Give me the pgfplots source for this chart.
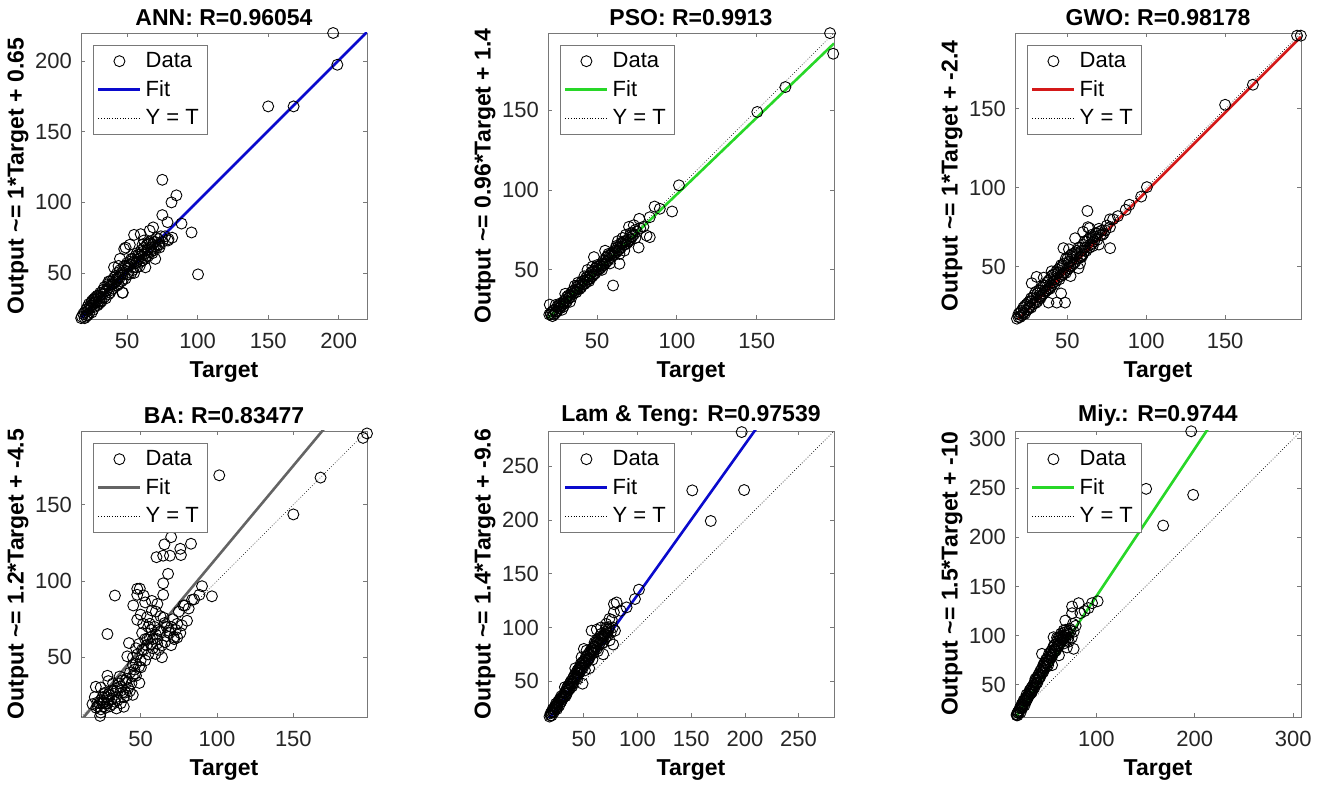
\documentclass[border=0pt]{standalone}
\usepackage{fontspec}
\setmainfont{Liberation Sans}
\usepackage{pgfplots}
\pgfplotsset{compat=1.18}

\definecolor{fitblue}{RGB}{10,10,205}
\definecolor{fitgreen}{RGB}{40,215,40}
\definecolor{fitred}{RGB}{212,25,25}
\definecolor{fitgray}{RGB}{100,100,100}
\definecolor{framegray}{RGB}{120,120,120}

\pgfplotsset{
  datast/.style={only marks, mark=o, mark size=2.75pt, black, mark options={line width=0.45pt}},
  ytst/.style={black, line width=0.35pt, densely dotted},
  datleg/.style={datast, legend image code/.code={\draw[mark repeat=2,mark phase=2,##1] plot coordinates {(0pt,0pt)(10.5pt,0pt)(21pt,0pt)};}},
  linleg/.style={legend image code/.code={\draw[##1] (0pt,0pt) -- (21pt,0pt);}},
  regplot/.style={
    scale only axis, width=143pt, height=143pt, anchor=north west,
    axis line style={framegray, line width=0.4pt},
    tick align=inside, major tick length=2pt,
    tick style={framegray, line width=0.4pt},
    /pgf/number format/assume math mode=true,
    tick label style={font=\fontsize{11}{13}\selectfont, text=black!85},
    xticklabel style={yshift=-3.5pt},
    yticklabel style={xshift=-1pt},
    every axis title/.style={at={(axis description cs:0.5,1.054)}, anchor=center, font=\bfseries\fontsize{11.5}{13}\selectfont},
    every axis x label/.style={at={(axis description cs:0.5,-0.185)}, anchor=center, font=\bfseries\fontsize{11.5}{13}\selectfont},
    every axis y label/.style={at={(axis description cs:-0.22,0.5)}, rotate=90, anchor=center, font=\bfseries\fontsize{11.5}{13}\selectfont},
    xlabel={Target},
    legend cell align=left,
    legend style={at={(0.041,0.959)}, anchor=north west, draw=framegray, line width=0.4pt, fill=white,
      font=\fontsize{11}{13}\selectfont, inner xsep=2pt, inner ysep=1.5pt, row sep=1pt},
  }
}

\begin{document}
\begin{tikzpicture}
\useasboundingbox (0pt,0pt) rectangle (661.5pt,-392.5pt);

% ---------------- ANN ----------------
\begin{axis}[regplot, at={(40.5pt,-16.5pt)},
  xmin=17.4, xmax=220, ymin=17.4, ymax=220,
  xtick={50,100,150,200}, ytick={50,100,150,200},
  title={ANN: R=0.96054}, ylabel={Output \textasciitilde= 1*Target + 0.65}]
\addlegendimage{datleg}\addlegendentry{Data}
\addlegendimage{fitblue, line width=1.3pt, linleg}\addlegendentry{Fit}
\addlegendimage{ytst, linleg}\addlegendentry{Y = T}
\addplot[ytst, forget plot] coordinates {(17.4,17.4) (220,220)};
\addplot[fitblue, line width=1.3pt, forget plot] coordinates {(17.4,18.05) (220,220.65)};
\addplot[datast, forget plot] coordinates {
(18,19)(19,17)(20,22)(21,24)(21,19)(22,26)(23,21)(23,28)(24,25)(25,30)(25,22)(26,29)(27,32)(27,26)(28,31)
(29,27)(29,34)(30,33)(31,29)(31,36)(32,30)(33,38)(34,33)(34,40)(35,37)(36,42)(37,35)(37,41)(38,44)(39,38)
(40,45)(40,39)(41,43)(42,48)(43,41)(43,46)(44,55)(45,47)(46,44)(46,50)(47,36)(48,52)(49,46)(49,55)(50,53)
(51,49)(52,58)(52,56)(53,50)(54,60)(55,54)(56,62)(56,57)(57,64)(58,60)(59,55)(60,66)(60,62)(61,59)(62,68)
(63,64)(64,70)(65,62)(65,67)(66,72)(67,65)(68,70)(69,66)(70,72)(71,68)(72,74)(73,70)(75,72)(77,76)(79,73)
(49,68)(52,70)(55,77)(59.7,77.5)(68.5,82.3)(75,116)(85,105)(81.5,100)(75,91)(78.7,86)(88.6,85)(95.7,78.7)
(100.3,49)(82,75)(79.4,74)(40.8,54)(46.7,36)(150,168)(168,168)(196,220)(199,197.5)(62,73)(63,54)(45,60)
(48,67)(66,80)(70,60)(17.5,18)(22,20)(24,27)(26,24)(28,29)(30,28)(32,35)(35,32)(38,40)(41,47)(44,42)
(47,49)(50,57)(53,56)(55,50)(57,58)(59,63)(61,65)(63,60)(64,66)(67,71)(69,72)(71,75)(73,68)
(19,21)(20,18)(22,23)(23,25)(25,27)(26,31)(27,29)(28,33)(30,30)(31,32)(33,35)(34,37)(36,38)(37,44)(38,36)
(39,42)(40,42)(42,44)(43,50)(44,47)(45,52)(47,45)(48,55)(50,49)(51,55)(53,60)(54,52)(55,58)(57,54)(58,63)
(60,58)(61,70)(62,63)(64,62)(65,71)(67,68)(68,64)(70,69)(72,70)(74,76)};
\end{axis}

% ---------------- PSO ----------------
\begin{axis}[regplot, at={(274pt,-16.5pt)},
  xmin=19.2, xmax=198.5, ymin=19.2, ymax=198.5,
  xtick={50,100,150}, ytick={50,100,150},
  title={PSO: R=0.9913}, ylabel={Output \textasciitilde= 0.96*Target + 1.4}]
\addlegendimage{datleg}\addlegendentry{Data}
\addlegendimage{fitgreen, line width=1.3pt, linleg}\addlegendentry{Fit}
\addlegendimage{ytst, linleg}\addlegendentry{Y = T}
\addplot[ytst, forget plot] coordinates {(19.2,19.2) (198.5,198.5)};
\addplot[fitgreen, line width=1.3pt, forget plot] coordinates {(19.2,19.83) (198.5,191.96)};
\addplot[datast, forget plot] coordinates {
(18,20)(19,21)(20,19)(21,22)(21,23)(22,21)(23,25)(23,22)(24,24)(25,27)(25,24)(26,26)(27,29)(27,27)(28,28)
(29,30)(29,27)(30,31)(31,30)(31,33)(32,32)(33,34)(34,33)(34,36)(35,35)(36,37)(37,36)(37,39)(38,38)(39,40)
(40,39)(40,42)(41,41)(42,43)(43,42)(43,45)(44,44)(45,46)(46,45)(46,48)(47,46)(48,49)(49,48)(49,51)(50,50)
(51,50)(52,53)(52,51)(53,54)(54,53)(55,56)(56,55)(56,58)(57,56)(58,59)(59,58)(60,61)(60,59)(61,62)(62,61)
(63,64)(64,63)(65,66)(65,64)(66,67)(67,66)(68,68)(69,67)(70,70)(71,69)(72,71)(73,72)(75,74)(77,76)(79,77)
(20.3,28.2)(18.9,20.7)(196,198.4)(198,185.5)(168,164.6)(150.4,149)(101.3,103)(97,86.6)(89.3,88.3)(86,89.7)
(83,83)(76.4,82)(83,70.5)(81,71.5)(76,64)(60,40.2)(64,53.8)(48,58)(55,62)(63,68)(70,77)(73,78)(44,50)
(38,42)(30,35)(66,70)(67,62)(24,28)(28,25)(33,30)(36,40)(42,46)(45,43)(50,53)(53,50)(57,60)(62,65)
(64,60)(68,72)(71,73)(74,70)(58,54)(47,52)
(19,19)(20,22)(22,24)(24,23)(26,28)(27,26)(29,29)(30,29)(32,34)(33,33)(35,37)(36,36)(38,40)(39,38)(41,43)
(42,41)(44,46)(45,44)(47,49)(48,47)(50,52)(51,52)(53,52)(54,56)(55,54)(57,59)(59,60)(61,60)(62,64)(63,62)
(65,67)(67,68)(68,66)(70,68)(72,73)(74,75)};
\end{axis}

% ---------------- GWO ----------------
\begin{axis}[regplot, at={(507.5pt,-16.5pt)},
  xmin=16.8, xmax=198.1, ymin=16.8, ymax=198.1,
  xtick={50,100,150}, ytick={50,100,150},
  title={GWO: R=0.98178}, ylabel={Output \textasciitilde= 1*Target + -2.4}]
\addlegendimage{datleg}\addlegendentry{Data}
\addlegendimage{fitred, line width=1.3pt, linleg}\addlegendentry{Fit}
\addlegendimage{ytst, linleg}\addlegendentry{Y = T}
\addplot[ytst, forget plot] coordinates {(16.8,16.8) (198.1,198.1)};
\addplot[fitred, line width=1.3pt, forget plot] coordinates {(16.8,14.4) (198.1,195.7)};
\addplot[datast, forget plot] coordinates {
(18,17)(19,20)(20,18)(21,22)(21,19)(22,24)(23,20)(23,25)(24,22)(25,27)(25,23)(26,28)(27,24)(27,30)(28,26)
(29,32)(29,27)(30,29)(31,33)(31,28)(32,31)(33,35)(34,32)(34,37)(35,33)(36,38)(37,35)(37,40)(38,36)(39,42)
(40,38)(40,44)(41,40)(42,45)(43,41)(43,47)(44,43)(45,49)(46,44)(46,51)(47,45)(48,52)(49,46)(49,55)(50,48)
(51,53)(52,50)(52,57)(53,51)(54,58)(55,53)(56,60)(56,55)(57,62)(58,56)(59,60)(60,64)(60,58)(61,66)(62,60)
(63,67)(64,62)(65,70)(65,64)(66,68)(67,66)(68,71)(69,67)(70,72)(71,70)(72,73)(73,71)(75,76)(77,75)(79,80)
(195.6,196.4)(198,196.4)(167.6,165.3)(150,152.6)(100.4,100.4)(96.8,94.4)(89.3,89.2)(87,86)(82,82)
(62.7,85.3)(77.1,61.7)(77,80)(64,74.4)(27.4,39.5)(30.5,43.5)(38,27.2)(43.3,27.2)(48.5,27.2)(46,33)
(47.5,61.7)(54.9,68)(58,52)(51,61)(60,72)(52,44)(35,43)(40,47)(63,75)(70,64)(57,49)(22,21)(26,25)
(30,34)(33,30)(36,35)(39,37)(42,42)(44,48)(47,50)(50,51)(53,56)(55,59)(59,57)(61,62)(66,65)(69,71)
(19,18)(20,21)(22,20)(24,26)(26,24)(27,28)(28,30)(30,27)(32,35)(33,31)(35,38)(36,34)(38,41)(39,36)(41,45)
(42,39)(44,46)(45,42)(47,51)(48,46)(50,55)(51,49)(53,58)(54,52)(56,58)(58,62)(59,56)(61,60)(62,66)(64,68)
(66,63)(68,69)(70,74)(72,70)(74,73)};
\end{axis}

% ---------------- BA ----------------
\begin{axis}[regplot, at={(40.5pt,-215.5pt)},
  xmin=11, xmax=198.2, ymin=11, ymax=198.2,
  xtick={50,100,150}, ytick={50,100,150},
  title={BA: R=0.83477}, ylabel={Output \textasciitilde= 1.2*Target + -4.5}]
\addlegendimage{datleg}\addlegendentry{Data}
\addlegendimage{fitgray, line width=1.3pt, linleg}\addlegendentry{Fit}
\addlegendimage{ytst, linleg}\addlegendentry{Y = T}
\addplot[ytst, forget plot] coordinates {(11,11) (198.2,198.2)};
\addplot[fitgray, line width=1.3pt, forget plot] coordinates {(11,8.7) (198.2,233.34)};
\addplot[datast, forget plot] coordinates {
(198.2,196.6)(195.6,193.7)(167.8,167.7)(150,143.6)(101.5,169.2)(96.7,90)(90.2,96.6)(88.5,91)(83.7,87.7)
(81.5,82)(80.4,74)(78,84)(71.7,63.1)(74,63)(70,58)(76,121.1)(83,124.4)(76.4,117)(70,128.7)(65.6,124)
(60.4,115.6)(64.8,116.6)(69.2,116.6)(68,104.7)(64.8,98.5)(64.8,91)(33.2,90.5)(28.3,65.3)(47.8,94.9)
(49.5,95)(47.8,91)(45.2,84)(52,90.5)(53,86)(57.4,87)(57.4,80.7)(47.8,74.6)(51.7,72)(54.3,76.4)(42.4,59.4)
(41.3,50.7)(49,58.8)(54.3,62)(56.9,58.8)(59.7,52.3)(64,50.1)(60.8,59)(63,67)(68.4,67.5)(65.8,72.5)
(50.2,43.5)(47,46.1)(46.4,39.5)(49.2,33.3)(44.9,37.8)(40.6,33.3)(36.3,37.5)(44.9,25.5)(39,17.7)(34.2,16.6)
(20.7,30.8)(28.3,38)(28.9,34.5)(23.9,30.3)(18.5,19.4)(23.5,11.7)(23.9,13.9)(26,20.5)(21.7,20.5)(31.4,19.4)
(28.3,23.8)(36.9,28.2)(40,27)(22,18)(24,22)(25,20)(27,17)(26,26)(29,22)(30,25)(32,28)(33,21)(35,30)
(36,33)(38,35)(39,24)(42,30)(43,40)(45,45)(50,48)(52,55)(55,52)(58,62)(60,65)(62,55)(66,60)(70,70)
(72,62)(75,80)(77,71)(60,80)(50,78)(55,70)(45,50)(47,56)(53,62)(57,68)(30,18)(27,27)(34,24)(37,20)
(41,36)(43,28)(48,52)(51,66)(56,72)(61,85)(63,77)(67,64)(73,68)(79,84)(85,88)
(20,24)(21,17)(23,20)(24,16)(25,24)(26,18)(28,20)(29,26)(31,23)(32,33)(34,28)(35,22)(37,31)(38,27)(40,35)
(41,25)(44,33)(46,42)(47,38)(49,44)(51,55)(53,48)(54,58)(56,63)(58,56)(59,70)(61,62)(62,68)(64,58)(65,76)
(67,70)(69,66)(71,75)(74,72)(76,66)};
\end{axis}

% ---------------- Lam & Teng ----------------
\begin{axis}[regplot, at={(274pt,-215.5pt)},
  xmin=16.6, xmax=283, ymin=16.6, ymax=283,
  xtick={50,100,150,200,250}, ytick={50,100,150,200,250},
  title={Lam \& Teng: R=0.97539}, ylabel={Output \textasciitilde= 1.4*Target + -9.6}]
\addlegendimage{datleg}\addlegendentry{Data}
\addlegendimage{fitblue, line width=1.3pt, linleg}\addlegendentry{Fit}
\addlegendimage{ytst, linleg}\addlegendentry{Y = T}
\addplot[ytst, forget plot] coordinates {(16.6,16.6) (283,283)};
\addplot[fitblue, line width=1.3pt, forget plot] coordinates {(16.6,13.64) (283,386.6)};
\addplot[datast, forget plot] coordinates {
(18,17)(19,20)(20,18)(21,22)(21,24)(22,21)(23,26)(23,23)(24,25)(25,28)(25,24)(26,29)(27,27)(27,32)(28,30)
(29,34)(29,31)(30,33)(31,37)(31,35)(32,36)(33,40)(34,38)(34,43)(35,41)(36,45)(37,43)(37,48)(38,47)(39,50)
(40,48)(40,53)(41,52)(42,56)(43,53)(43,58)(44,57)(45,61)(46,58)(46,63)(47,60)(48,66)(49,62)(49,68)(50,65)
(51,70)(52,67)(52,73)(53,69)(54,75)(55,71)(56,78)(56,74)(57,77)(58,80)(59,76)(60,83)(60,79)(61,85)(62,80)
(63,87)(64,84)(65,90)(65,86)(66,88)(67,92)(68,86)(69,94)(70,90)(71,96)(72,92)(73,98)(75,95)(77,100)(79,97)
(197,282)(199.3,228)(151,227.7)(168.2,199.2)(101.3,135.2)(97.6,126.5)(89.8,118.7)(80.5,123.3)(78,121.8)
(84.3,115.6)(78,114)(76,107)(73.8,108)(70.8,103.3)(57.2,97)(73.3,100.3)(77.3,84.1)(52.5,78.5)(47.9,72.3)
(48.8,47.6)(32.3,44.4)(62,98)(66,100)(68,75)(55,62)(42,62)(50,80)(58,70)(24,29)(28,34)(33,36)(36,42)
(39,45)(44,52)(47,66)(51,60)(54,70)(59,82)(63,78)(67,85)(70,98)(74,88)
(19,18)(20,21)(22,24)(24,27)(25,26)(26,31)(28,33)(29,36)(30,35)(32,39)(33,38)(35,45)(36,43)(38,50)(39,48)
(41,55)(42,53)(44,60)(45,58)(47,63)(48,62)(50,68)(51,67)(53,73)(54,71)(55,76)(57,80)(58,76)(60,86)(61,82)
(62,88)(64,90)(66,94)(67,89)(69,92)(71,100)(72,95)};
\end{axis}

% ---------------- Miy. ----------------
\begin{axis}[regplot, at={(507.5pt,-215.5pt)},
  xmin=17.3, xmax=308, ymin=17.3, ymax=308,
  xtick={100,200,300}, ytick={50,100,150,200,250,300},
  title={Miy.: R=0.9744}, ylabel={Output \textasciitilde= 1.5*Target + -10}]
\addlegendimage{datleg}\addlegendentry{Data}
\addlegendimage{fitgreen, line width=1.3pt, linleg}\addlegendentry{Fit}
\addlegendimage{ytst, linleg}\addlegendentry{Y = T}
\addplot[ytst, forget plot] coordinates {(17.3,17.3) (308,308)};
\addplot[fitgreen, line width=1.3pt, forget plot] coordinates {(17.3,15.95) (308,452)};
\addplot[datast, forget plot] coordinates {
(18,17)(19,20)(20,19)(21,23)(21,21)(22,24)(23,27)(23,22)(24,26)(25,30)(25,27)(26,31)(27,29)(27,34)(28,33)
(29,37)(29,34)(30,36)(31,41)(31,38)(32,40)(33,45)(34,42)(34,47)(35,44)(36,50)(37,47)(37,52)(38,50)(39,55)
(40,52)(40,58)(41,56)(42,61)(43,58)(43,64)(44,62)(45,67)(46,63)(46,70)(47,66)(48,73)(49,68)(49,76)(50,72)
(51,78)(52,74)(52,82)(53,77)(54,84)(55,79)(56,88)(56,82)(57,86)(58,91)(59,85)(60,94)(60,89)(61,97)(62,90)
(63,99)(64,93)(65,100)(65,96)(66,98)(67,103)(68,95)(69,100)(70,104)(71,97)(72,101)(73,107)(75,98)(77,104)(79,110)
(196.4,307.7)(198.4,243.1)(150.6,249.2)(167.9,211.9)(101.3,135)(95.6,133)(82,133)(75.3,129.6)(75.3,122.8)
(83.8,122.8)(68.4,115.3)(76.2,112)(66.7,105.2)(56.5,98.4)(76.9,86.6)(44.7,81.5)(88,125)(92,128)(55,70)
(62,80)(70,88)(24,30)(28,36)(33,41)(38,54)(42,57)(47,72)(51,70)(54,80)(58,84)(61,92)(64,98)(67,92)(72,94)
(19,19)(20,22)(22,26)(24,29)(25,28)(26,34)(28,36)(29,40)(30,38)(32,44)(33,43)(35,48)(36,47)(38,56)(39,52)
(41,60)(42,58)(44,65)(45,63)(47,70)(48,69)(50,76)(51,74)(53,81)(54,78)(55,85)(57,90)(58,86)(60,98)(61,90)
(62,95)(64,102)(66,96)(67,99)(69,106)(71,102)(74,105)};
\end{axis}
\end{tikzpicture}
\end{document}
